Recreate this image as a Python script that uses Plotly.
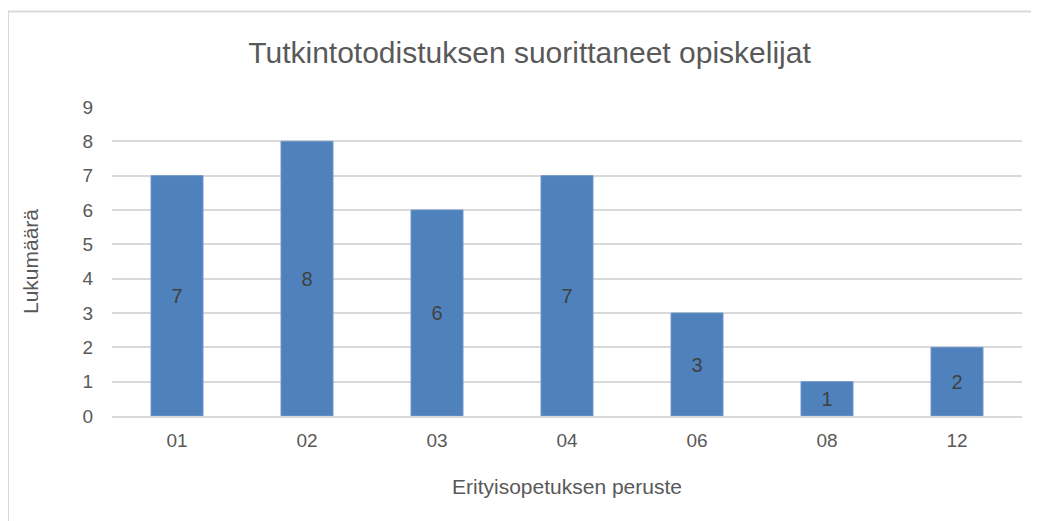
import plotly.graph_objects as go

categories = ["01", "02", "03", "04", "06", "08", "12"]
values = [7, 8, 6, 7, 3, 1, 2]
y_ticks = [0, 1, 2, 3, 4, 5, 6, 7, 8, 9]

title_text = "Tutkintotodistuksen suorittaneet opiskelijat"
x_title = "Erityisopetuksen peruste"
y_title = "Lukumäärä"

FONT = "Liberation Sans, Arial, sans-serif"

# page body has an 8px offset; figure sized to fill the rest of the window
W, H = 1031, 513
L, R, T, B = 104, 17, 99, 105
pw, ph = W - L - R, H - T - B

fig = go.Figure(
    go.Bar(
        x=categories,
        y=values,
        text=[str(v) for v in values],
        textposition="inside",
        insidetextanchor="middle",
        textangle=0,
        textfont=dict(family=FONT, size=20, color="#404040"),
        marker=dict(color="#4F81BD", line=dict(color="#6F97C8", width=1)),
        hoverinfo="skip",
    )
)

fig.update_layout(
    width=W,
    height=H,
    margin=dict(l=L, r=R, t=T, b=B),
    paper_bgcolor="white",
    plot_bgcolor="white",
    bargap=0.6,
    showlegend=False,
    font=dict(family=FONT, color="#595959"),
    uniformtext=dict(minsize=20, mode="show"),
    title=dict(
        text=title_text,
        x=(521.5) / W,
        xanchor="center",
        y=1 - 44 / H,
        yanchor="middle",
        font=dict(family=FONT, size=30, color="#595959"),
    ),
    xaxis=dict(
        type="category",
        showgrid=False,
        showline=True,
        linecolor="#D9D9D9",
        linewidth=1.5,
        ticks="",
        ticklabelstandoff=6,
        tickfont=dict(family=FONT, size=19, color="#595959"),
        title=dict(text=x_title, font=dict(family=FONT, size=21, color="#595959"), standoff=30),
    ),
    yaxis=dict(
        range=[0, 9],
        tickvals=y_ticks,
        showgrid=True,
        gridcolor="#D9D9D9",
        gridwidth=1.5,
        zeroline=False,
        ticks="",
        ticklabelstandoff=18,
        tickfont=dict(family=FONT, size=19, color="#595959"),
        title=dict(text=y_title, font=dict(family=FONT, size=21, color="#595959"), standoff=38),
    ),
    shapes=[
        dict(
            type="rect",
            xref="paper",
            yref="paper",
            x0=(0 - L) / pw,
            x1=(W + 10 - L) / pw,
            y0=(H - B - (H + 10)) / ph,
            y1=(H - B - 3.5) / ph,
            line=dict(color="#D9D9D9", width=2),
            fillcolor="rgba(0,0,0,0)",
            layer="below",
        )
    ],
)

fig.write_html("out.html")
